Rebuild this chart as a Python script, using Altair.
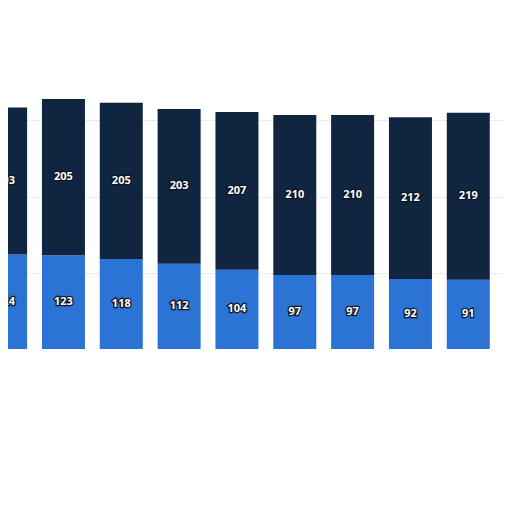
import altair as alt
import pandas as pd

positions = [0, 1, 2, 3, 4, 5, 6, 7, 8, 9]
lower_vals = [124, 123, 118, 112, 104, 97, 97, 92, 91, 88]
upper_vals = [193, 205, 205, 203, 207, 210, 210, 212, 219, 222]

rows = []
for p, lo, up in zip(positions, lower_vals, upper_vals):
    rows.append({"pos": p, "seg": "lower", "order": 0, "value": lo, "y0": 0, "y1": lo})
    rows.append({"pos": p, "seg": "upper", "order": 1, "value": up, "y0": lo, "y1": lo + up})
df = pd.DataFrame(rows)
df["mid"] = (df["y0"] + df["y1"]) / 2

xs = alt.Scale(domain=[0.1276, 8.531], nice=False, zero=False)
ys = alt.Scale(domain=[0, 447.5], nice=False, zero=True)

bars = alt.Chart(df).mark_bar(width=43, clip=True).encode(
    x=alt.X("pos:Q", scale=xs, axis=alt.Axis(labels=False, ticks=False, grid=False,
                                             domain=True, domainColor="#3a3f47",
                                             domainWidth=1, title=None)),
    y=alt.Y("y0:Q", scale=ys, axis=alt.Axis(labels=False, ticks=False, domain=False,
                                            grid=True, gridColor="#c8c8c8",
                                            gridDash=[1, 2], values=[100, 200, 300],
                                            title=None)),
    y2="y1:Q",
    color=alt.Color("seg:N", scale=alt.Scale(domain=["lower", "upper"],
                                             range=["#2b74d6", "#10253f"]), legend=None),
)

outline = alt.Chart(df).mark_text(font="Open Sans", fontSize=11, fontWeight="bold",
                                  stroke="#0b1524", strokeWidth=2.5, fill="#0b1524",
                                  clip=True).encode(
    x=alt.X("pos:Q", scale=xs),
    y=alt.Y("mid:Q", scale=ys),
    text="value:Q",
)
labels = alt.Chart(df).mark_text(font="Open Sans", fontSize=11, fontWeight="bold",
                                 fill="white", clip=True).encode(
    x=alt.X("pos:Q", scale=xs),
    y=alt.Y("mid:Q", scale=ys),
    text="value:Q",
)

chart = alt.layer(bars, outline, labels).properties(
    width=496, height=341, padding=0,
    autosize=alt.AutoSizeParams(type="none"),
).configure_view(stroke=None)

chart.save("out.html", embed_options={"renderer": "svg", "actions": False})
